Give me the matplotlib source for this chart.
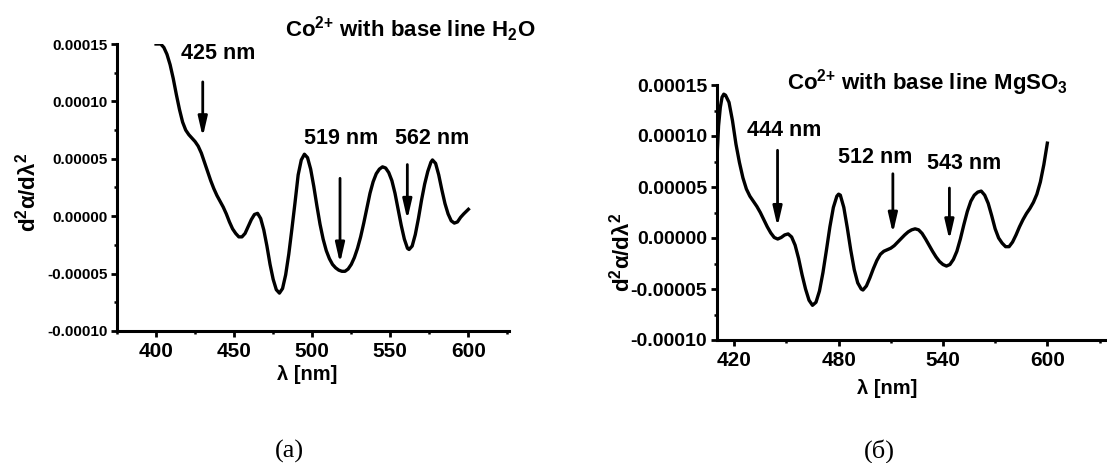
import matplotlib
matplotlib.use("Agg")
import matplotlib.pyplot as plt
from matplotlib.ticker import MultipleLocator, FormatStrFormatter

plt.rcParams['font.family'] = ['Liberation Sans', 'DejaVu Sans']
plt.rcParams['font.weight'] = 'bold'
plt.rcParams['mathtext.fontset'] = 'custom'
plt.rcParams['mathtext.rm'] = 'Liberation Sans:bold'
plt.rcParams['mathtext.bf'] = 'Liberation Sans:bold'
plt.rcParams['mathtext.it'] = 'Liberation Sans:italic:bold'
plt.rcParams['mathtext.default'] = 'bf'

# ---- data (a): Co2+ with base line H2O  (y in units of 1e-5) ----
wl_a = [400, 403, 405, 407, 409, 411, 413, 415, 417, 419, 421, 423, 425, 427, 429,
        431, 433, 435, 437, 439, 441, 443, 445, 447, 449, 451, 453, 455, 457, 459,
        461, 463, 465, 467, 469, 471, 473, 475, 477, 479, 481, 483, 485, 487, 489,
        491, 493, 495, 497, 499, 501, 503, 505, 507, 509, 511, 513, 515, 517, 519,
        521, 523, 525, 527, 529, 531, 533, 535, 537, 539, 541, 543, 545, 547, 549,
        551, 553, 555, 557, 559, 561, 562, 564, 566, 568, 570, 572, 574, 576, 577,
        579, 581, 583, 585, 587, 589, 591, 593, 595, 597, 600]
d2_a = [15.0, 15.0, 14.7, 14.1, 13.2, 12.0, 10.6, 9.3, 8.2, 7.5, 7.1, 6.8, 6.5, 6.1, 5.5,
        4.7, 3.9, 3.1, 2.4, 1.8, 1.3, 0.8, 0.2, -0.5, -1.1, -1.5, -1.8, -1.8, -1.5, -0.9,
        -0.3, 0.15, 0.25, -0.2, -1.2, -2.6, -4.2, -5.5, -6.4, -6.7, -6.3, -5.1, -3.3, -1.1, 1.2,
        3.6, 4.9, 5.4, 5.1, 4.1, 2.6, 0.9, -0.7, -2.0, -3.0, -3.7, -4.2, -4.5, -4.7, -4.8,
        -4.8, -4.6, -4.2, -3.6, -2.8, -1.8, -0.6, 0.7, 2.0, 3.0, 3.7, 4.1, 4.3, 4.2, 3.8,
        3.1, 2.0, 0.6, -0.8, -2.0, -2.8, -2.9, -2.6, -1.6, -0.2, 1.4, 2.8, 3.9, 4.7, 4.9,
        4.6, 3.6, 2.3, 1.1, 0.2, -0.4, -0.6, -0.5, -0.1, 0.2, 0.6]

# ---- data (б): Co2+ with base line MgSO3 (y in units of 1e-5) ----
wl_b = [410, 411, 412, 413, 414, 415, 417, 419, 421, 423, 425, 427, 429, 431, 433,
        435, 437, 439, 441, 443, 445, 447, 449, 451, 453, 455, 457, 459, 461, 463,
        465, 467, 469, 471, 473, 475, 477, 479, 480, 481, 483, 485, 487, 489, 491,
        493, 494, 496, 498, 500, 502, 504, 506, 508, 510, 512, 514, 516, 518, 520,
        522, 524, 526, 528, 530, 532, 534, 536, 538, 540, 542, 544, 546, 548, 550,
        552, 554, 556, 558, 560, 562, 564, 566, 568, 570, 572, 574, 576, 578, 580,
        582, 584, 586, 588, 590, 592, 594, 596, 598, 600]
d2_b = [7.5, 11.0, 12.8, 13.8, 14.1, 14.0, 13.3, 11.5, 9.2, 7.4, 5.9, 4.8, 4.1, 3.6, 3.1,
        2.5, 1.8, 1.1, 0.5, 0.05, -0.1, 0.05, 0.3, 0.4, 0.1, -0.7, -2.0, -3.6, -5.0, -6.1,
        -6.6, -6.3, -5.2, -3.4, -1.2, 1.1, 3.0, 4.1, 4.3, 4.2, 3.0, 1.0, -1.2, -3.1, -4.4,
        -5.0, -5.1, -4.7, -3.9, -3.0, -2.2, -1.6, -1.3, -1.15, -1.0, -0.75, -0.4, -0.05, 0.3, 0.6,
        0.8, 0.9, 0.8, 0.45, -0.1, -0.7, -1.3, -1.85, -2.3, -2.6, -2.75, -2.6, -2.1, -1.3, -0.1,
        1.3, 2.6, 3.6, 4.2, 4.5, 4.6, 4.2, 3.4, 2.2, 0.9, 0.0, -0.5, -0.85, -0.85, -0.4,
        0.3, 1.1, 1.8, 2.4, 2.9, 3.5, 4.3, 5.5, 7.2, 9.3]

scale = 1e-5
ya = [v * scale for v in d2_a]
yb = [v * scale for v in d2_b]

# annotations: label, text position (nm, 1e-5), arrow x, arrow start y, arrow tip y
labels_a = ["425 nm", "519 nm", "562 nm"]
text_a = [(440, 14.15), (518.3, 6.8), (576.5, 6.8)]
arrows_a = [(429.9, 11.7, 6.9), (517.8, 3.3, -4.1), (560.9, 4.5, -0.3)]

labels_b = ["444 nm", "512 nm", "543 nm"]
text_b = [(448.7, 10.5), (501.2, 7.9), (552.1, 7.35)]
arrows_b = [(444.9, 8.6, 1.1), (511.2, 6.3, 0.45), (543.7, 4.9, -0.2)]

title_a = r"Co$^{2{+}}$ with base line H$_2$O"
title_b = r"Co$^{2{+}}$ with base line MgSO$_3$"
xlabel = "λ [nm]"
ylabel = r"d$^2$α/dλ$^2$"

W, H = 1107, 463
fig = plt.figure(figsize=(W / 100, H / 100), dpi=100)

def px(x0, y0, x1, y1):
    return [x0 / W, 1 - y1 / H, (x1 - x0) / W, (y1 - y0) / H]

ax1 = fig.add_axes(px(117, 44, 509, 331))
ax2 = fig.add_axes(px(717, 85, 1107, 340))

def style(ax, xlim, xmaj, xmin, xfs, yfs):
    for s in ['top', 'right']:
        ax.spines[s].set_visible(False)
    for s in ['left', 'bottom']:
        ax.spines[s].set_linewidth(2.2)
    ax.set_xlim(*xlim)
    ax.set_ylim(-0.0001, 0.00015)
    ax.xaxis.set_major_locator(MultipleLocator(xmaj))
    ax.xaxis.set_minor_locator(MultipleLocator(xmin))
    ax.yaxis.set_major_locator(MultipleLocator(0.00005))
    ax.yaxis.set_minor_locator(MultipleLocator(0.000025))
    ax.yaxis.set_major_formatter(FormatStrFormatter('%.5f'))
    ax.tick_params(axis='both', which='major', direction='out', length=4, width=2)
    ax.tick_params(axis='both', which='minor', direction='out', length=2.5, width=1.8)
    ax.tick_params(axis='x', which='major', labelsize=xfs, pad=4)
    ax.tick_params(axis='y', which='major', labelsize=yfs, pad=3)
    for lab in ax.get_xticklabels() + ax.get_yticklabels():
        lab.set_fontweight('bold')

style(ax1, (375, 626), 50, 25, 15, 11)
style(ax2, (410.1, 634.3), 60, 30, 15, 14)

ax1.plot(wl_a, ya, color='black', lw=2.4)
ax2.plot(wl_b, yb, color='black', lw=2.4)

def annotate(ax, labels, texts, arrows):
    for lab, (tx, ty), (axx, y0, y1) in zip(labels, texts, arrows):
        ax.text(tx, ty * scale, lab, ha='center', va='center', fontsize=15.5,
                fontweight='bold')
        ax.annotate('', xy=(axx, y1 * scale), xytext=(axx, y0 * scale),
                    arrowprops=dict(arrowstyle='-|>,head_length=0.65,head_width=0.15',
                                    color='black', lw=2,
                                    mutation_scale=18, shrinkA=0, shrinkB=0))

annotate(ax1, labels_a, text_a, arrows_a)
annotate(ax2, labels_b, text_b, arrows_b)

# titles
fig.text(285 / W, 1 - 37 / H, title_a, ha='left', va='baseline', fontsize=16,
         fontweight='bold')
fig.text(787 / W, 1 - 89 / H, title_b, ha='left', va='baseline', fontsize=16,
         fontweight='bold')

# axis labels
fig.text(307 / W, 1 - 375 / H, xlabel, ha='center', va='center', fontsize=14.5,
         fontweight='bold')
fig.text(887 / W, 1 - 388 / H, xlabel, ha='center', va='center', fontsize=14.5,
         fontweight='bold')
fig.text(28 / W, 1 - 192 / H, ylabel, ha='center', va='center', rotation=90,
         fontsize=16, fontweight='bold')
fig.text(622 / W, 1 - 252 / H, ylabel, ha='center', va='center', rotation=90,
         fontsize=16, fontweight='bold')

# captions
fig.text(289 / W, 1 - 451 / H, "(a)", ha='center', va='center', fontsize=19,
         family='Liberation Serif', fontweight='normal')
fig.text(879 / W, 1 - 451 / H, "(б)", ha='center', va='center', fontsize=19,
         family='Liberation Serif', fontweight='normal')

fig.savefig("out.png", dpi=100)
